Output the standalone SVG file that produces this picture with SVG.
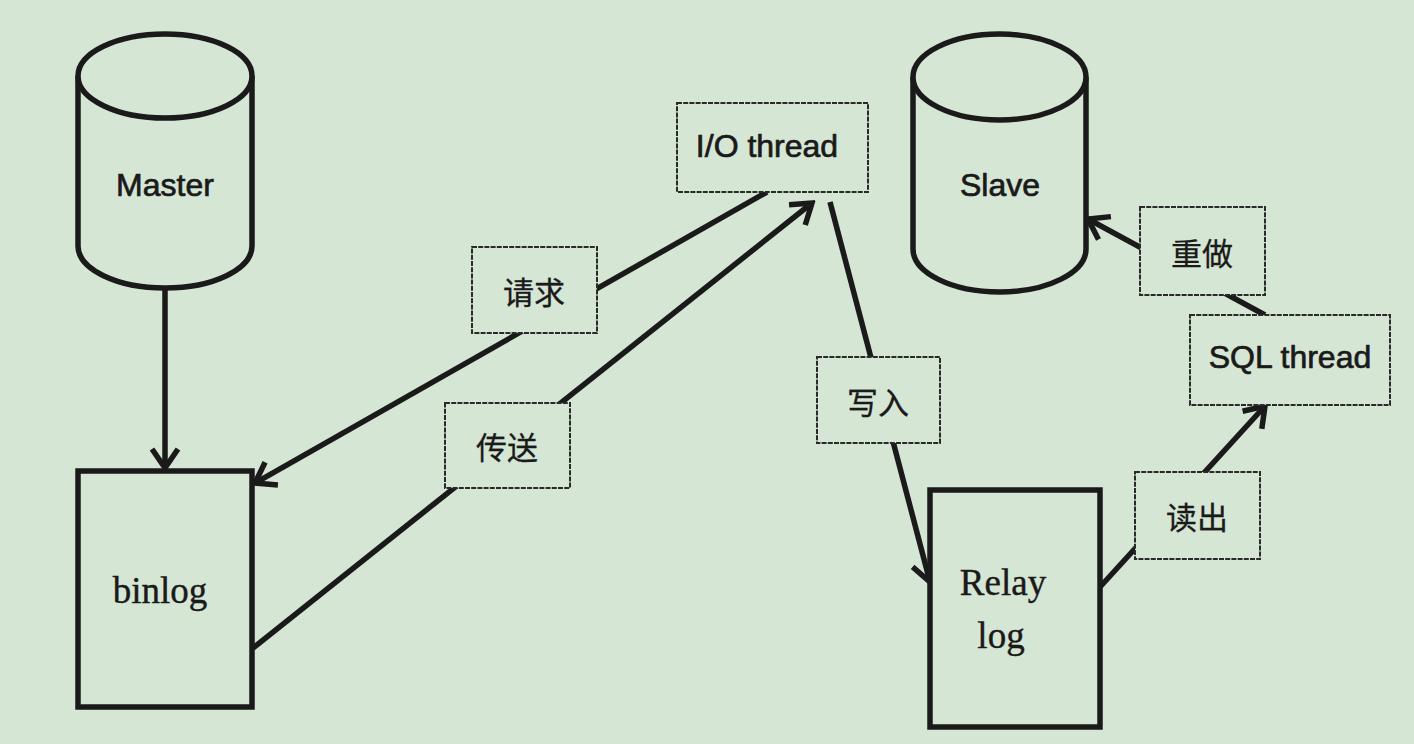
<svg xmlns="http://www.w3.org/2000/svg" width="1414" height="744" viewBox="0 0 1414 744">
  <defs>
    <style>
      .bg { fill: #d6e6d4; }
      .conn { stroke: #1a1a1a; stroke-width: 5.5; fill: none; }
      .shape { stroke: #1a1a1a; stroke-width: 5.5; fill: #d6e6d4; }
      .label-box { stroke: #2a2a2a; stroke-width: 2; stroke-dasharray: 5 1.2; fill: #d6e6d4; }
      .sans { font-family: "Liberation Sans", Arial, sans-serif; font-size: 32px; fill: #1a1a1a; stroke: #1a1a1a; stroke-width: 0.7; text-anchor: middle; }
      .serif { font-family: "Liberation Serif", "Times New Roman", serif; font-size: 37px; fill: #1a1a1a; stroke: #1a1a1a; stroke-width: 0.4; text-anchor: middle; }
      .cjk { font-family: "Noto Sans CJK SC", "Noto Sans", sans-serif; font-size: 31px; fill: #1a1a1a; stroke: #1a1a1a; stroke-width: 0.3; text-anchor: middle; dominant-baseline: central; }
    </style>
    <marker id="arrow" markerUnits="userSpaceOnUse" viewBox="-24 -16 28 32" markerWidth="28" markerHeight="32" refX="0" refY="0" orient="auto">
      <path d="M-19,-13 L0,0 L-19,13" fill="none" stroke="#1a1a1a" stroke-width="5.5" stroke-linejoin="miter"/>
    </marker>
  </defs>

  <rect class="bg" x="0" y="0" width="1414" height="744"/>

  <g id="connectors">
    <line class="conn" x1="165" y1="288" x2="165" y2="468" marker-end="url(#arrow)"/>
    <line class="conn" x1="767" y1="192" x2="255" y2="483" marker-end="url(#arrow)"/>
    <line class="conn" x1="253" y1="648" x2="812" y2="203" marker-end="url(#arrow)"/>
    <line class="conn" x1="830" y1="202" x2="930" y2="582" marker-end="url(#arrow)"/>
    <line class="conn" x1="1100" y1="587" x2="1265" y2="406" marker-end="url(#arrow)"/>
    <line class="conn" x1="1265" y1="315" x2="1088" y2="219" marker-end="url(#arrow)"/>
  </g>

  <g id="master">
    <path class="shape" d="M78,76 L78,246 A87,42 0 0 0 252,246 L252,76"/>
    <ellipse class="shape" cx="165" cy="76" rx="87" ry="42"/>
    <text class="sans" x="165" y="196">Master</text>
  </g>

  <g id="binlog">
    <rect class="shape" x="78" y="471" width="174" height="236"/>
    <text class="serif" x="160" y="603">binlog</text>
  </g>

  <g id="io-thread">
    <rect class="label-box" x="677" y="103" width="191" height="89"/>
    <text class="sans" x="767" y="157">I/O thread</text>
  </g>

  <g id="label-request">
    <rect class="label-box" x="472" y="247" width="125" height="86"/>
    <text class="cjk" x="534" y="290">请求</text>
  </g>

  <g id="label-send">
    <rect class="label-box" x="445" y="403" width="125" height="85"/>
    <text class="cjk" x="507" y="445">传送</text>
  </g>

  <g id="label-write">
    <rect class="label-box" x="817" y="357" width="123" height="86"/>
    <text class="cjk" x="878" y="400">写入</text>
  </g>

  <g id="slave">
    <path class="shape" d="M913,77 L913,249 A86.5,43 0 0 0 1086,249 L1086,77"/>
    <ellipse class="shape" cx="999.5" cy="77" rx="86.5" ry="43"/>
    <text class="sans" x="1000" y="196">Slave</text>
  </g>

  <g id="relay-log">
    <rect class="shape" x="930" y="490" width="170" height="237"/>
    <text class="serif" x="1003" y="595">Relay</text>
    <text class="serif" x="1001" y="648">log</text>
  </g>

  <g id="label-redo">
    <rect class="label-box" x="1140" y="207" width="125" height="88"/>
    <text class="cjk" x="1202" y="251">重做</text>
  </g>

  <g id="sql-thread">
    <rect class="label-box" x="1190" y="315" width="200" height="90"/>
    <text class="sans" x="1290" y="368">SQL thread</text>
  </g>

  <g id="label-read">
    <rect class="label-box" x="1135" y="472" width="125" height="87"/>
    <text class="cjk" x="1197" y="515">读出</text>
  </g>
</svg>
